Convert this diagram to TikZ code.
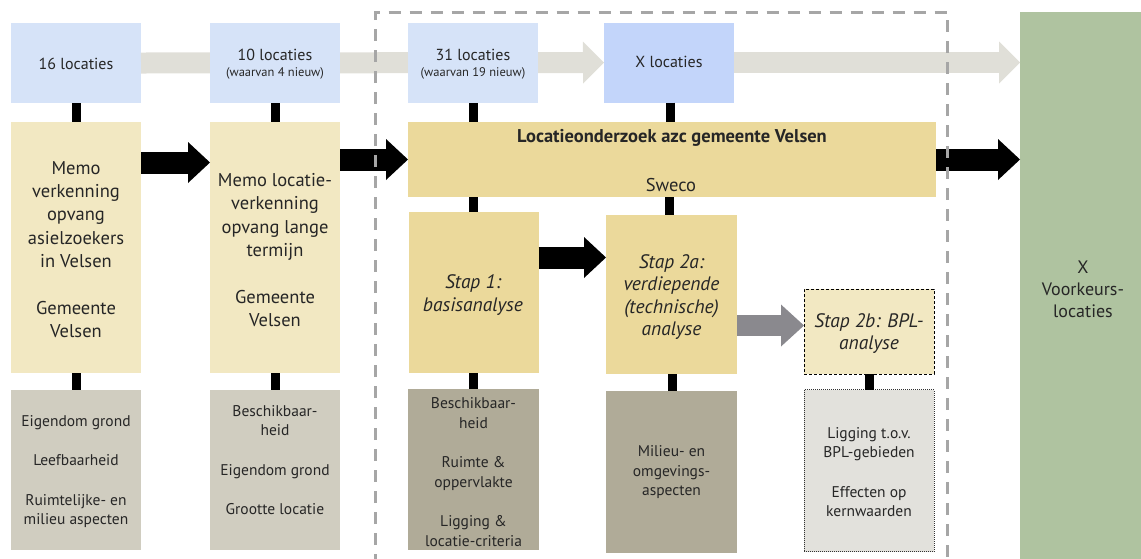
\documentclass[tikz,border=0pt]{standalone}
\usepackage{fontspec}
\setmainfont{PT Sans}
\usetikzlibrary{arrows.meta}
\definecolor{blueA}{HTML}{D6E3F8}
\definecolor{blueB}{HTML}{C3D5FA}
\definecolor{bandC}{HTML}{E0DFD8}
\definecolor{yelA}{HTML}{F2E8C2}
\definecolor{yelB}{HTML}{EBD99B}
\definecolor{grayA}{HTML}{D0CDC0}
\definecolor{grayB}{HTML}{B0AB98}
\definecolor{grayC}{HTML}{E2E1DC}
\definecolor{greenA}{HTML}{AFC3A0}
\definecolor{arrG}{HTML}{8A898E}
\definecolor{frameC}{HTML}{A6A6A6}
\definecolor{txt}{HTML}{262626}
\begin{document}
\begin{tikzpicture}[x=1pt,y=-1pt,
  box/.style={inner sep=0pt,outer sep=0pt,draw=none},
  lbl/.style={inner sep=0pt,align=center,text=txt},
  ftop/.style={font=\fontsize{16}{18}\selectfont},
  fmid/.style={font=\fontsize{18.5}{23.3}\selectfont},
  fstap/.style={font=\fontsize{19.5}{22.5}\selectfont\itshape},
  fbot/.style={font=\fontsize{15.5}{19.5}\selectfont},
  conn/.style={line width=9pt,black},
  barrow/.style={line width=22pt,black,-{Triangle[length=22pt,width=41pt,line width=0pt]}},
  garrow/.style={line width=21pt,arrG,-{Triangle[length=23pt,width=42pt,line width=0pt]}},
  band/.style={line width=21pt,bandC,-{Triangle[length=21pt,width=42pt,line width=0pt]}},
  frame/.style={line width=3pt,frameC,dash pattern=on 12pt off 9pt}]
\useasboundingbox (0,0) rectangle (1141,558);

% boxes
\node[box,fill=blueA,minimum width=130pt,minimum height=80pt] (b1) at (76,63) {};
\node[box,fill=blueB,minimum width=130pt,minimum height=80pt] (b4) at (669,62.5) {};
\node[box,fill=greenA,minimum width=121pt,minimum height=548pt] (gr) at (1080.5,286) {};

% grey band arrows (behind the blue boxes)
\draw[band] (b1.east) -- (b4.west);
\draw[band] (b4.east) -- (b4.east -| gr.west);
\node[box,fill=blueA,minimum width=130pt,minimum height=80pt] (b2) at (275,63) {};
\node[box,fill=blueA,minimum width=130pt,minimum height=80pt] (b3) at (473,63) {};

\node[box,fill=yelA,minimum width=130pt,minimum height=251pt] (y1) at (76,247.5) {};
\node[box,fill=yelA,minimum width=130pt,minimum height=251pt] (y2) at (275,247.5) {};
\node[box,fill=yelB,minimum width=528pt,minimum height=75pt] (big) at (672,159.5) {};
\node[box,fill=yelB,minimum width=130pt,minimum height=161pt] (s1) at (473.5,292.5) {};
\node[box,fill=yelB,minimum width=131pt,minimum height=159pt] (s2a) at (671.5,294.5) {};
\node[box,fill=yelA,draw=black,line width=0.8pt,dash pattern=on 3pt off 2pt,minimum width=130pt,minimum height=85pt] (s2b) at (869,331.5) {};

\node[box,fill=grayA,minimum width=130pt,minimum height=160pt] (c1) at (76,470) {};
\node[box,fill=grayA,minimum width=130pt,minimum height=160pt] (c2) at (275,470) {};
\node[box,fill=grayB,minimum width=131pt,minimum height=161pt] (c3) at (473.5,469.5) {};
\node[box,fill=grayB,minimum width=131pt,minimum height=162pt] (c4) at (671.5,472) {};
\node[box,fill=grayC,draw=black!80,line width=0.7pt,dash pattern=on 1pt off 1pt,minimum width=130pt,minimum height=162pt] (c5) at (869,470.5) {};

% connectors
\draw[conn] (b1.south) -- (y1.north);
\draw[conn] (b2.south) -- (y2.north);
\draw[conn] (b3.south) -- (b3.south |- big.north);
\draw[conn] ([xshift=1pt]b4.south) -- ([xshift=1pt]b4.south |- big.north);
\draw[conn] (s1.north |- big.south) -- (s1.north);
\draw[conn] ([xshift=-2pt]s2a.north |- big.south) -- ([xshift=-2pt]s2a.north);
\draw[conn] (y1.south) -- (c1.north);
\draw[conn] (y2.south) -- (c2.north);
\draw[conn] (s1.south) -- (c3.north);
\draw[conn] ([xshift=1pt]s2a.south) -- ([xshift=1pt]s2a.south |- c4.north);
\draw[conn] (s2b.south) -- (c5.north);

% block arrows
\draw[barrow] ([yshift=85pt]y1.east) -- ([yshift=85pt]y2.west);
\draw[barrow] (y2.east |- big.west) -- (big.west);
\draw[barrow] (big.east) -- (big.east -| gr.west);
\draw[barrow] ([yshift=35pt]s1.east) -- ([yshift=35pt]s1.east -| s2a.west);
\coordinate (g2) at ([yshift=6pt]s2b.west);
\draw[garrow] (g2 -| s2a.east) -- (g2);

% texts
\node[lbl,ftop] (t1) at (76,63.5) {16 locaties};
\node[lbl,ftop] (t2) at (275,64) {10 locaties\\[-2pt]{\fontsize{12.5}{13}\selectfont (waarvan 4 nieuw)}};
\node[lbl,ftop] (t3) at (473,64) {31 locaties\\[-2pt]{\fontsize{12.5}{13}\selectfont (waarvan 19 nieuw)}};
\node[lbl,ftop] (t4) at (669,62) {X locaties};
\node[lbl,fmid] (ty1) at (76,249.5) {Memo\\verkenning\\opvang\\asielzoekers\\in Velsen\\[23.3pt]Gemeente\\Velsen};
\node[lbl,fmid] (ty2) at (275,250) {Memo locatie-\\verkenning\\opvang lange\\termijn\\[23.3pt]Gemeente\\Velsen};
\node[lbl,font=\fontsize{18.5}{20}\selectfont\bfseries] (tbig) at (672,138) {Locatieonderzoek azc gemeente Velsen};
\node[lbl,font=\fontsize{18.5}{20}\selectfont] (tsw) at (671,185) {Sweco};
\node[lbl,fstap] (ts1) at (473,295) {Stap 1:\\basisanalyse};
\node[lbl,fstap] (ts2a) at (671.5,297) {Stap 2a:\\verdiepende\\(technische)\\analyse};
\node[lbl,fstap] (ts2b) at (869,333.5) {Stap 2b: BPL-\\analyse};
\node[lbl,fbot] (tc1) at (76,471.5) {Eigendom grond\\[20pt]Leefbaarheid\\[20pt]Ruimtelijke- en\\milieu aspecten};
\node[lbl,fbot] (tc2) at (275,460) {Beschikbaar-\\heid\\[20pt]Eigendom grond\\[20pt]Grootte locatie};
\node[lbl,fbot] (tc3) at (473.5,472) {Beschikbaar-\\heid\\[20pt]Ruimte \&\\oppervlakte\\[20pt]Ligging \&\\locatie-criteria};
\node[lbl,fbot] (tc4) at (671.5,472.5) {Milieu- en\\omgevings-\\aspecten};
\node[lbl,fbot] (tc5) at (869,472) {Ligging t.o.v.\\BPL-gebieden\\[20pt]Effecten op\\kernwaarden};
\node[lbl,font=\fontsize{18}{22}\selectfont] (tgr) at (1083,289) {X\\Voorkeurs-\\locaties};

% dashed frame
\coordinate (fa) at (375.5,566);
\coordinate (fb) at (375.5,12);
\coordinate (fc) at (947.5,12);
\coordinate (fd) at (947.5,566);
\draw[frame] (fa) -- (fb) -- (fc) -- (fd);
\end{tikzpicture}
\end{document}
